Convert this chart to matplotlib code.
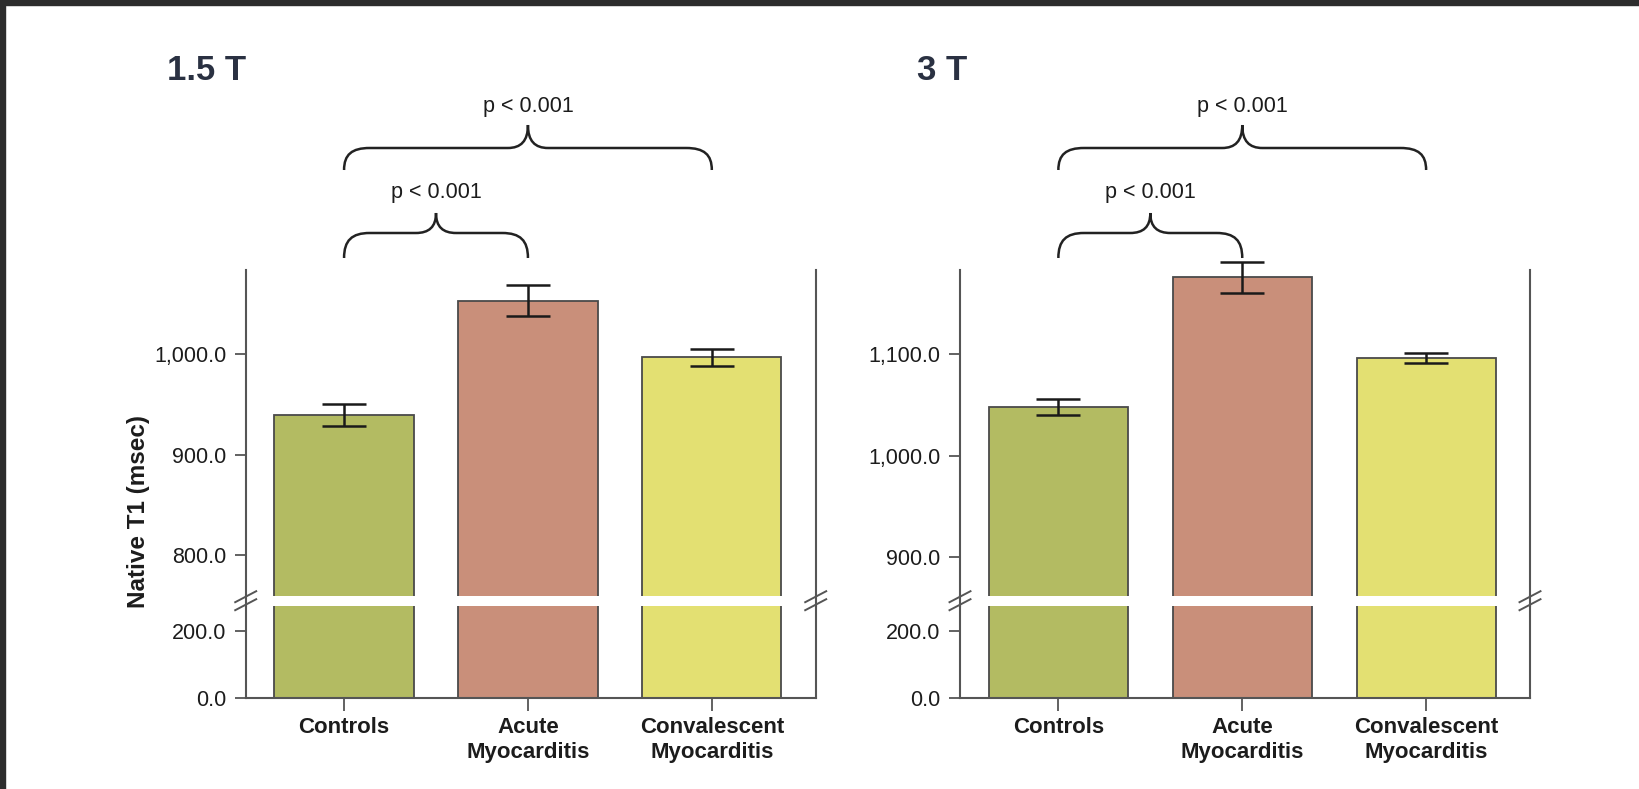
import matplotlib
matplotlib.use('Agg')
import matplotlib.pyplot as plt
import matplotlib.transforms as mtransforms
from matplotlib.path import Path
from matplotlib.patches import PathPatch, Rectangle
from matplotlib.lines import Line2D
from matplotlib.ticker import FuncFormatter

plt.rcParams['font.family'] = ['Liberation Sans', 'DejaVu Sans']

# data
groups = ['Controls', 'Acute\nMyocarditis', 'Convalescent\nMyocarditis']
bar_colors = ['#b3bb62', '#c98f7a', '#e3e072']

titles = ['1.5 T', '3 T']
t1_mean = [[940, 1053.5, 997], [1048, 1176, 1096]]
t1_err = [[11, 15.5, 8.5], [8, 15, 5]]

upper_lims = [(760, 1084), (861.5, 1183.3)]
upper_ticks = [[800, 900, 1000], [900, 1000, 1100]]
lower_lim = (0, 276)
lower_ticks = [0, 200]

comparisons = [(0, 1), (0, 2)]
comp_labels = ['p < 0.001', 'p < 0.001']

W, H = 1639, 789
fig = plt.figure(figsize=(W / 100, H / 100), dpi=100, facecolor='white')

# dark frame of the screenshot (top and left edges)
fig.patches.append(Rectangle((0, 1 - 4.5 / H), 1, 4.5 / H, transform=fig.transFigure,
                             color='#2d2d2d', zorder=0))
fig.patches.append(Rectangle((0, 0), 4.5 / W, 1, transform=fig.transFigure,
                             color='#2d2d2d', zorder=0))

spine_col = '#555555'
text_col = '#1c1c1c'
fmt = FuncFormatter(lambda v, p: '{:,.1f}'.format(v))

panel_left = [245.7, 960]
panel_w = 570
top_y0, top_y1 = 270, 595.7
bot_y0, bot_y1 = 605.7, 697.7
title_x = [167, 917]


def brace(ax, x0, x1, y_end, y_mid, y_tip, dx_end=0.14, dx_tip=0.11):
    xm = (x0 + x1) / 2
    verts = [
        (x0, y_end),
        (x0, y_end + 0.7 * (y_mid - y_end)), (x0 + 0.3 * dx_end, y_mid), (x0 + dx_end, y_mid),
        (xm - dx_tip, y_mid),
        (xm - 0.35 * dx_tip, y_mid), (xm, y_mid + 0.3 * (y_tip - y_mid)), (xm, y_tip),
        (xm, y_mid + 0.3 * (y_tip - y_mid)), (xm + 0.35 * dx_tip, y_mid), (xm + dx_tip, y_mid),
        (x1 - dx_end, y_mid),
        (x1 - 0.3 * dx_end, y_mid), (x1, y_end + 0.7 * (y_mid - y_end)), (x1, y_end),
    ]
    codes = [Path.MOVETO] + [Path.CURVE4] * 3 + [Path.LINETO] + [Path.CURVE4] * 6 \
        + [Path.LINETO] + [Path.CURVE4] * 3
    trans = mtransforms.blended_transform_factory(ax.transData, ax.transAxes)
    ax.add_patch(PathPatch(Path(verts, codes), fill=False, lw=1.8, ec='#222222',
                           transform=trans, clip_on=False))
    return xm


def frac_y(py):
    # pixel row -> axes fraction of the upper axes
    return (top_y1 - py) / (top_y1 - top_y0)


# brace geometry (pixel rows) for the short and the long comparison
brace_rows = [(258, 233, 213, 193), (170, 148, 125, 107)]

x = list(range(len(groups)))
for k in range(2):
    left = panel_left[k] / W
    width = panel_w / W
    ax_top = fig.add_axes([left, 1 - top_y1 / H, width, (top_y1 - top_y0) / H])
    ax_bot = fig.add_axes([left, 1 - bot_y1 / H, width, (bot_y1 - bot_y0) / H])

    for ax in (ax_top, ax_bot):
        ax.bar(x, t1_mean[k], width=0.757, color=bar_colors, edgecolor='#4a4a4a', lw=1.3,
               zorder=2)
        ax.set_xlim(-0.535, 2.565)
        ax.spines['top'].set_visible(False)
        for s in ('left', 'right', 'bottom'):
            ax.spines[s].set_color(spine_col)
            ax.spines[s].set_linewidth(1.5)
        ax.tick_params(axis='y', length=8, width=1.3, color=spine_col, pad=6,
                       labelsize=15.5, labelcolor=text_col)
        ax.yaxis.set_major_formatter(fmt)

    eb = ax_top.errorbar(x, t1_mean[k], yerr=t1_err[k], fmt='none', ecolor='#1a1a1a',
                         elinewidth=1.8, capsize=15.5, capthick=1.8, zorder=3)
    for art in eb.lines[1] + eb.lines[2]:
        art.set_clip_on(False)
    ax_top.set_ylim(*upper_lims[k])
    ax_top.set_yticks(upper_ticks[k])
    ax_top.spines['bottom'].set_visible(False)
    ax_top.set_xticks([])

    ax_bot.set_ylim(*lower_lim)
    ax_bot.set_yticks(lower_ticks)
    ax_bot.set_xticks(x)
    ax_bot.set_xticklabels(groups, fontsize=16, fontweight='bold', color=text_col,
                           linespacing=1.25)
    ax_bot.tick_params(axis='x', length=9, width=1.3, color=spine_col, pad=5)

    # axis line through the break and the break marks
    for sx in (panel_left[k], panel_left[k] + panel_w):
        fig.add_artist(Line2D([sx / W, sx / W], [1 - top_y1 / H, 1 - bot_y0 / H],
                              transform=fig.transFigure, color=spine_col, lw=1.5))
        yc = (top_y1 + bot_y0) / 2
        for off in (-4, 4):
            fig.add_artist(Line2D([(sx - 10.5) / W, (sx + 10.5) / W],
                                  [1 - (yc + off + 5.5) / H, 1 - (yc + off - 5.5) / H],
                                  transform=fig.transFigure, color=spine_col, lw=1.4))

    # comparison braces
    for (i, j), lab, rows in zip(comparisons, comp_labels, brace_rows):
        y_end, y_mid, y_tip, y_lab = [frac_y(r) for r in rows]
        xm = brace(ax_top, x[i], x[j], y_end, y_mid, y_tip)
        ax_top.text(xm, y_lab, lab, transform=mtransforms.blended_transform_factory(
            ax_top.transData, ax_top.transAxes), ha='center', va='center',
            fontsize=15.5, color=text_col)

    fig.text(title_x[k] / W, 1 - 80 / H, titles[k], fontsize=25, fontweight='bold',
             color='#2a3142', va='baseline', ha='left')

fig.text(139 / W, 1 - 511 / H, 'Native T1 (msec)', rotation=90, ha='center', va='center',
         fontsize=17.5, fontweight='bold', color=text_col)

fig.savefig('out.png', dpi=100, facecolor='white')
